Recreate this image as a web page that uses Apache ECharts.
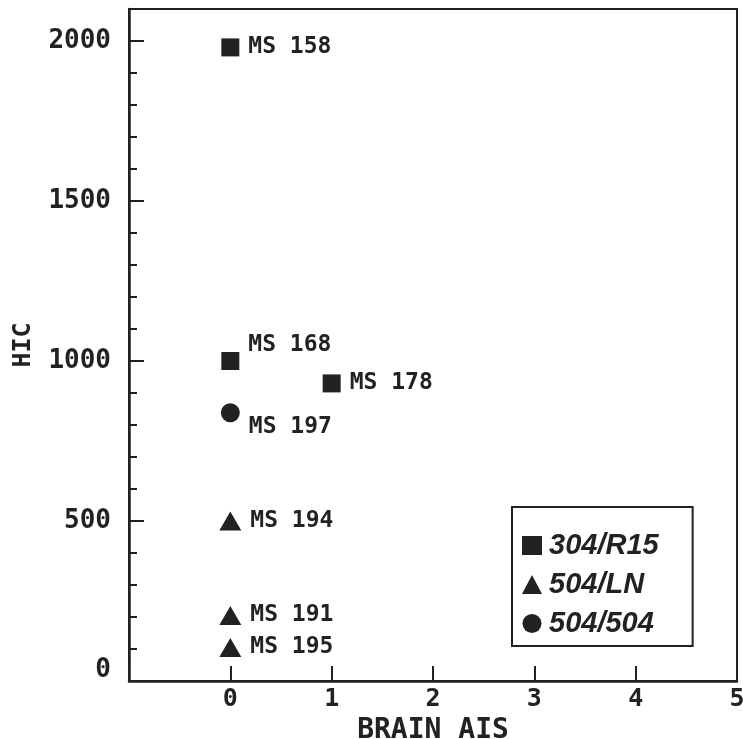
<!DOCTYPE html>
<html>
<head>
<meta charset="utf-8">
<script src="https://cdn.jsdelivr.net/npm/echarts@6/dist/echarts.min.js"></script>
<style>
html,body{margin:0;padding:0;background:#fff;}
#chart{width:743px;height:739px;}
</style>
</head>
<body>
<div id="chart"></div>
<script>
// ---- data ----
const xTicks = [0, 1, 2, 3, 4, 5];
const yTicks = [0, 500, 1000, 1500, 2000];
const seriesNames = ['304/R15', '504/LN', '504/504'];
const squareNames = ['MS 158', 'MS 168', 'MS 178'];
const squareX = [0, 0, 1];
const squareY = [1980, 1000, 930];
const triangleNames = ['MS 194', 'MS 191', 'MS 195'];
const triangleX = [0, 0, 0];
const triangleY = [500, 205, 105];
const circleNames = ['MS 197'];
const circleX = [0];
const circleY = [838];

// ---- styling ----
const ink = '#222';
const mono = '"DejaVu Sans Mono", monospace';
const labelOffsets = { 'MS 168': [0, -16], 'MS 197': [0, 14] };

function pts(names, xs, ys) {
  return names.map((n, i) => {
    const p = { name: n, value: [xs[i], ys[i]] };
    if (labelOffsets[n]) p.label = { offset: labelOffsets[n] };
    return p;
  });
}

function mkSeries(name, symbol, size, data) {
  return {
    name: name,
    type: 'scatter',
    symbol: symbol,
    symbolSize: size,
    itemStyle: { color: ink, opacity: 1 },
    data: data,
    label: {
      show: true,
      position: 'right',
      distance: 9,
      formatter: p => p.name,
      color: ink,
      opacity: 1,
      fontFamily: mono,
      fontWeight: 'bold',
      fontSize: 23
    },
    emphasis: { disabled: true }
  };
}

const chart = echarts.init(document.getElementById('chart'), null, { renderer: 'canvas' });
chart.setOption({
  animation: false,
  backgroundColor: '#fff',
  grid: {
    left: 129, top: 9, right: 6, bottom: 58,
    outerBoundsMode: 'none',
    containLabel: false,
    show: true, borderColor: ink, borderWidth: 2, backgroundColor: 'transparent'
  },
  legend: {
    orient: 'vertical',
    left: 512, top: 507,
    padding: [24, 34, 8, 10],
    itemGap: 10,
    itemWidth: 20, itemHeight: 19,
    borderColor: ink, borderWidth: 2,
    data: seriesNames,
    itemStyle: { opacity: 1 },
    textStyle: {
      color: ink,
      fontFamily: '"Liberation Sans", Arial, sans-serif',
      fontStyle: 'italic', fontWeight: 'bold', fontSize: 29,
      padding: [0, 0, 0, 2]
    }
  },
  xAxis: {
    type: 'value',
    min: -1, max: 5, interval: 1,
    name: 'BRAIN AIS',
    nameLocation: 'middle',
    nameGap: 30,
    nameTextStyle: { color: ink, fontFamily: mono, fontWeight: 'bold', fontSize: 28 },
    axisLine: { show: true, onZero: false, lineStyle: { color: ink, width: 2.5 } },
    axisTick: { show: true, inside: true, length: 15, lineStyle: { color: ink, width: 2 } },
    axisLabel: {
      color: ink, fontFamily: mono, fontWeight: 'bold', fontSize: 25, margin: 6,
      formatter: v => (xTicks.indexOf(v) >= 0 ? String(v) : '')
    },
    splitLine: { show: false }
  },
  yAxis: [{
    type: 'value',
    min: 0, max: 2100, interval: 500,
    name: 'HIC',
    nameLocation: 'middle',
    nameGap: 93,
    nameRotate: 90,
    nameTextStyle: { color: ink, fontFamily: mono, fontWeight: 'bold', fontSize: 25 },
    axisLine: { show: true, onZero: false, lineStyle: { color: ink, width: 2.5 } },
    axisTick: { show: true, inside: true, length: 15, lineStyle: { color: ink, width: 2 } },
    axisLabel: {
      color: ink, fontFamily: mono, fontWeight: 'bold', fontSize: 26, margin: 18,
      formatter: v => (yTicks.indexOf(v) < 0 ? '' : (v === 0 ? '{z|0}' : String(v))),
      rich: { z: { fontFamily: mono, fontWeight: 'bold', fontSize: 26, color: ink, padding: [0, 0, 22, 0] } }
    },
    splitLine: { show: false }
  }, {
    type: 'value',
    position: 'left',
    min: 0, max: 2100, interval: 100,
    axisLine: { show: false, onZero: false },
    axisTick: { show: true, inside: true, length: 8, lineStyle: { color: ink, width: 2 } },
    axisLabel: { show: false },
    splitLine: { show: false }
  }],
  series: [
    mkSeries(seriesNames[0], 'rect', 18, pts(squareNames, squareX, squareY)),
    mkSeries(seriesNames[1], 'triangle', [22, 19], pts(triangleNames, triangleX, triangleY)),
    mkSeries(seriesNames[2], 'circle', 19, pts(circleNames, circleX, circleY))
  ]
});
</script>
</body>
</html>
